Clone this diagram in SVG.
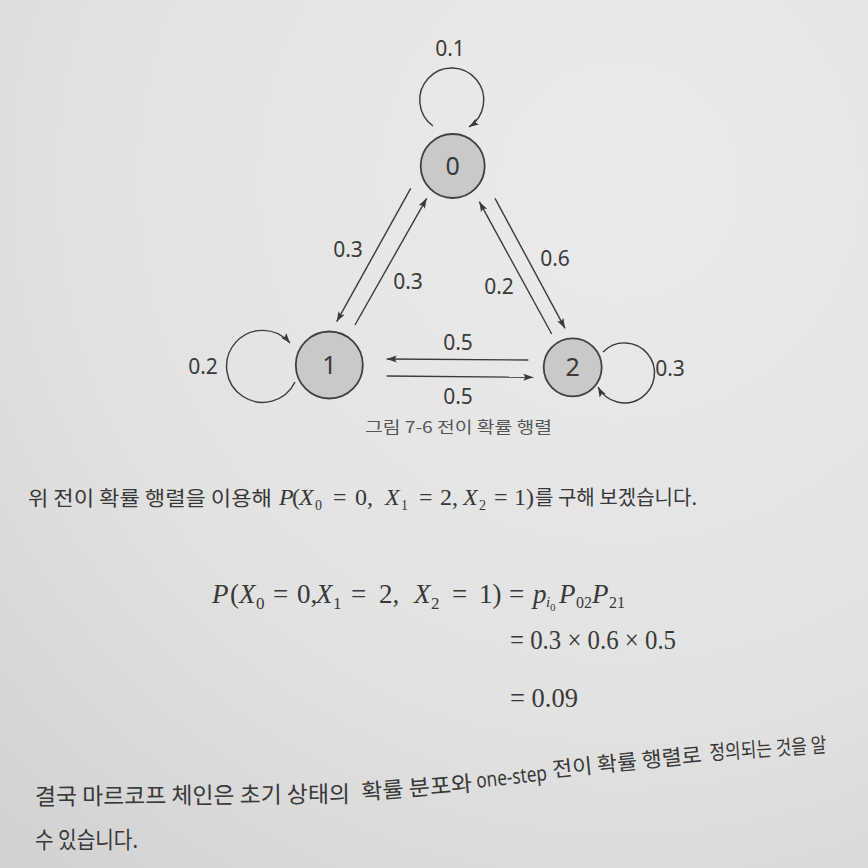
<svg xmlns="http://www.w3.org/2000/svg" width="868" height="868" viewBox="0 0 868 868">
<defs>
<radialGradient id="bg" cx="620" cy="180" r="900" gradientUnits="userSpaceOnUse">
<stop offset="0" stop-color="#ebebeb"/>
<stop offset="0.6" stop-color="#e2e2e2"/>
<stop offset="1" stop-color="#d2d2d2"/>
</radialGradient>
<marker id="ah" markerUnits="userSpaceOnUse" markerWidth="11" markerHeight="8" refX="10" refY="4" orient="auto">
<path d="M0,0.5 L10,4 L0,7.5 L2,4 z" fill="#3a3a3a"/>
</marker>
</defs>
<style>
.node circle{fill:#c9c9c9;stroke:#404040;stroke-width:1.8}
.node text{font-family:"Noto Sans","Open Sans",sans-serif;font-size:25px;fill:#3a3a3a;text-anchor:middle}
.edge{fill:none;stroke:#3a3a3a;stroke-width:1.4;marker-end:url(#ah)}
.lbl{font-family:"Noto Sans","Open Sans",sans-serif;font-size:21px;fill:#3a3a3a;text-anchor:middle}
.cap{font-family:"Noto Sans CJK KR","Noto Sans",sans-serif;font-size:16px;fill:#555}
.kr{font-family:"Noto Sans CJK KR","Noto Sans",sans-serif;fill:#383838}
.en{font-family:"Noto Sans","Open Sans",sans-serif;fill:#383838}
.m{font-family:"Liberation Serif","DejaVu Serif",serif;fill:#383838}
.i{font-style:italic}
</style>
<rect x="0" y="0" width="868" height="868" fill="url(#bg)"/>

<g id="connectors">
<path class="edge" d="M433,126 A32,32 0 1 1 469,127"/>
<path class="edge" d="M295,382 A36,36 0 1 1 290,343"/>
<path class="edge" d="M603,352 A30,30 0 1 1 598,387"/>
<path class="edge" d="M410.7,188.3 L336.7,321.7"/>
<path class="edge" d="M355,325 L426.7,198.3"/>
<path class="edge" d="M495,198.3 L565,328.3"/>
<path class="edge" d="M551.7,334 L479.3,201.7"/>
<path class="edge" d="M528.3,360 L386.7,359"/>
<path class="edge" d="M386.7,376 L533.3,377.3"/>
<g id="edge-labels">
<text class="lbl" x="450" y="56">0.1</text>
<text class="lbl" x="203" y="374">0.2</text>
<text class="lbl" x="670" y="376">0.3</text>
<text class="lbl" x="348" y="257">0.3</text>
<text class="lbl" x="408" y="289">0.3</text>
<text class="lbl" x="555" y="266">0.6</text>
<text class="lbl" x="499" y="294">0.2</text>
<text class="lbl" x="458" y="350">0.5</text>
<text class="lbl" x="458" y="404">0.5</text>
</g>
</g>

<g id="node0" class="node"><circle cx="452.7" cy="166" r="32"/><text x="452.7" y="175">0</text></g>
<g id="node1" class="node"><circle cx="329.3" cy="365" r="33.5"/><text x="329.3" y="374">1</text></g>
<g id="node2" class="node"><circle cx="572.7" cy="367.3" r="29"/><text x="572.7" y="376">2</text></g>

<text class="cap" x="365" y="433" textLength="187" lengthAdjust="spacingAndGlyphs">그림 7-6  전이 확률 행렬</text>

<g id="line1">
<text class="kr" x="28" y="506" font-size="20" textLength="244" lengthAdjust="spacingAndGlyphs">위 전이 확률 행렬을 이용해</text>
<text class="m" font-size="24">
<tspan class="i" x="279" y="505">P</tspan><tspan x="292" y="505">(</tspan><tspan class="i" x="299" y="505">X</tspan><tspan x="315" y="510" font-size="14">0</tspan><tspan x="333" y="505">=</tspan><tspan x="355" y="505">0,</tspan><tspan class="i" x="385" y="505">X</tspan><tspan x="401" y="510" font-size="14">1</tspan><tspan x="419" y="505">=</tspan><tspan x="440" y="505">2,</tspan><tspan class="i" x="463" y="505">X</tspan><tspan x="479" y="510" font-size="14">2</tspan><tspan x="494" y="505">=</tspan><tspan x="514" y="505">1)</tspan>
</text>
<text class="kr" x="535" y="505" font-size="20" textLength="162" lengthAdjust="spacingAndGlyphs">를 구해 보겠습니다.</text>
</g>

<g id="equation">
<text class="m" font-size="27">
<tspan class="i" x="212" y="603">P</tspan><tspan x="230" y="603">(</tspan><tspan class="i" x="239" y="603">X</tspan><tspan x="256" y="609" font-size="17">0</tspan><tspan x="273" y="603">=</tspan><tspan x="297" y="603">0,</tspan><tspan class="i" x="316" y="603">X</tspan><tspan x="333" y="609" font-size="17">1</tspan><tspan x="351" y="603">=</tspan><tspan x="379" y="603">2,</tspan><tspan class="i" x="414" y="603">X</tspan><tspan x="431" y="609" font-size="17">2</tspan><tspan x="452" y="603">=</tspan><tspan x="479" y="603">1)</tspan><tspan x="509" y="603">=</tspan><tspan class="i" x="533" y="603">p</tspan><tspan class="i" x="546" y="607" font-size="15">i</tspan><tspan x="550" y="611" font-size="11">0</tspan><tspan class="i" x="559" y="603">P</tspan><tspan x="576" y="608" font-size="16">02</tspan><tspan class="i" x="592" y="603">P</tspan><tspan x="609" y="608" font-size="16">21</tspan>
</text>
<text class="m" x="510" y="649" font-size="27" textLength="166" lengthAdjust="spacingAndGlyphs">= 0.3 × 0.6 × 0.5</text>
<text class="m" x="510" y="707" font-size="27" textLength="68" lengthAdjust="spacingAndGlyphs">= 0.09</text>
</g>

<g id="closing">
<text class="kr" x="35" y="805" font-size="23" textLength="315" lengthAdjust="spacingAndGlyphs" transform="rotate(-0.5 35 805)">결국 마르코프 체인은 초기 상태의</text>
<text class="kr" x="362" y="800" font-size="22" textLength="111" lengthAdjust="spacingAndGlyphs" transform="rotate(-4.6 362 800)">확률 분포와</text>
<text class="en" x="477" y="788" font-size="21" textLength="71" lengthAdjust="spacingAndGlyphs" transform="rotate(-6.4 477 788)">one-step</text>
<text class="kr" x="553" y="777" font-size="21" textLength="150" lengthAdjust="spacingAndGlyphs" transform="rotate(-5.7 553 777)">전이 확률 행렬로</text>
<text class="kr" x="710" y="760" font-size="20.5" textLength="117" lengthAdjust="spacingAndGlyphs" transform="rotate(-3.9 710 760)">정의되는 것을 알</text>
<text class="kr" x="35" y="848" font-size="23" textLength="103" lengthAdjust="spacingAndGlyphs">수 있습니다.</text>
</g>
</svg>
